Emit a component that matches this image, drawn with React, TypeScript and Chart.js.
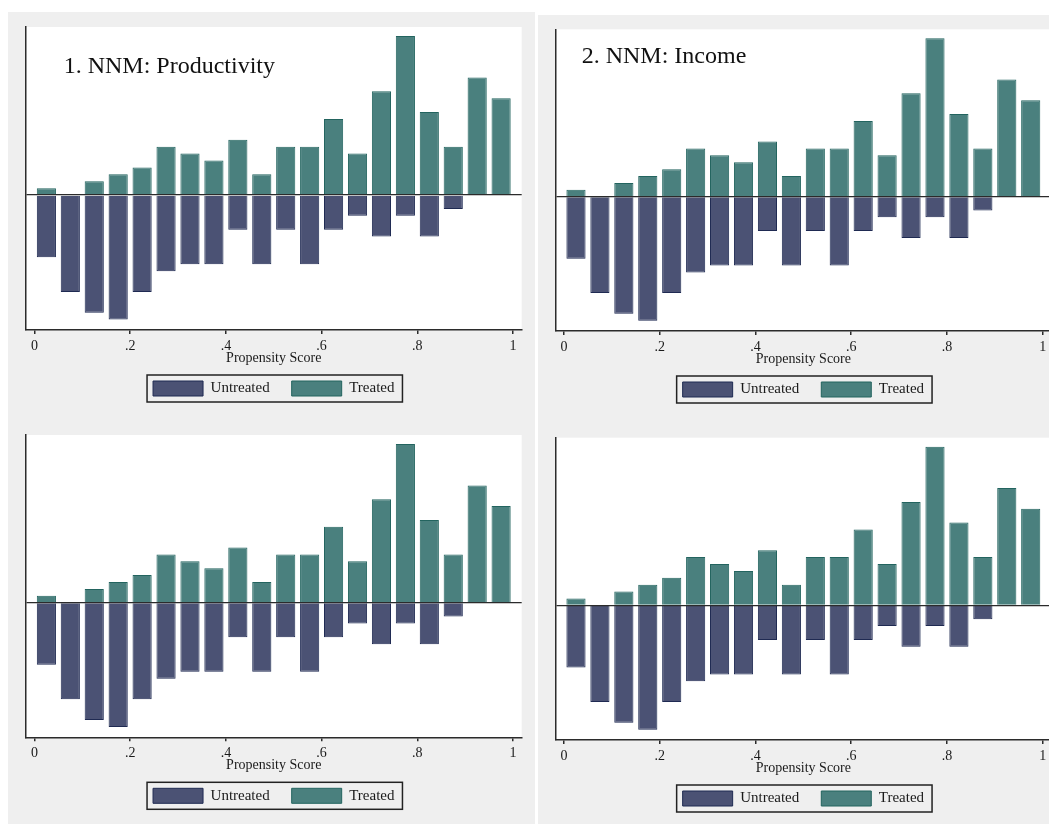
import React, { useEffect, useRef } from "react";
import { Chart, registerables } from "chart.js";

Chart.register(...registerables);

// ---- data ----
const binCenters = [
  0.025, 0.075, 0.125, 0.175, 0.225, 0.275, 0.325, 0.375, 0.425, 0.475,
  0.525, 0.575, 0.625, 0.675, 0.725, 0.775, 0.825, 0.875, 0.925, 0.975,
];
const treatedCounts = [1, 0, 2, 3, 4, 7, 6, 5, 8, 3, 7, 7, 11, 6, 15, 23, 12, 7, 17, 14];
const untreatedCounts = [9, 14, 17, 18, 14, 11, 10, 10, 5, 10, 5, 10, 5, 3, 6, 3, 6, 2, 0, 0];
const xTickValues = [0, 0.2, 0.4, 0.6, 0.8, 1];
const xTickLabels = ["0", ".2", ".4", ".6", ".8", "1"];
const seriesNames = ["Untreated", "Treated"];
const xAxisTitle = "Propensity Score";
const panelTitles = ["1. NNM: Productivity", "2. NNM: Income", "", ""];

// ---- styles / layout ----
const SERIF = "'Liberation Serif', 'Times New Roman', serif";
const PANEL_BG = "#efefef";
const UNTREATED_FILL = "#4b5274";
const UNTREATED_BORDER = "#1f2a52";
const TREATED_FILL = "#4a807e";
const TREATED_BORDER = "#23645f";
const AXIS_COLOR = "#2b2b2b";

type PanelLayout = {
  left: number;
  top: number;
  width: number;
  height: number;
  canvasWidth: number;
  padTop: number;
  padBottom: number;
  padLeft: number;
  padRight: number;
  titleLeft: number;
  titleTop: number;
};

const layouts: PanelLayout[] = [
  { left: 8, top: 12, width: 527, height: 408, canvasWidth: 527, padTop: 15, padBottom: 14, padLeft: 17.8, padRight: 13.3, titleLeft: 55.7, titleTop: 40.9 },
  { left: 538, top: 15, width: 511, height: 407, canvasWidth: 514, padTop: 14.3, padBottom: 15, padLeft: 17.4, padRight: 0.7, titleLeft: 43.7, titleTop: 27.9 },
  { left: 8, top: 420, width: 527, height: 404, canvasWidth: 527, padTop: 15, padBottom: 10.7, padLeft: 17.8, padRight: 13.3, titleLeft: 0, titleTop: 0 },
  { left: 538, top: 422, width: 511, height: 402, canvasWidth: 514, padTop: 15.7, padBottom: 8, padLeft: 17.4, padRight: 0.7, titleLeft: 0, titleTop: 0 },
];

const plotBackground = {
  id: "plotBackground",
  beforeDraw(chart: any) {
    const { ctx, chartArea } = chart;
    if (!chartArea) return;
    ctx.save();
    ctx.fillStyle = "#ffffff";
    ctx.fillRect(chartArea.left, chartArea.top, chartArea.right - chartArea.left, chartArea.bottom - chartArea.top);
    ctx.restore();
  },
};

const legendFrame = {
  id: "legendFrame",
  afterDraw(chart: any) {
    const hb = chart.legend && chart.legend.legendHitBoxes;
    if (!hb || !hb.length) return;
    const l = Math.min(...hb.map((h: any) => h.left)) - 6;
    const r = Math.max(...hb.map((h: any) => h.left + h.width)) + 8;
    const t = Math.min(...hb.map((h: any) => h.top)) - 6;
    const b = Math.max(...hb.map((h: any) => h.top + h.height)) + 6;
    const ctx = chart.ctx;
    ctx.save();
    ctx.strokeStyle = "#222";
    ctx.lineWidth = 1.5;
    ctx.strokeRect(l, t, r - l, b - t);
    ctx.restore();
  },
};

function Panel({ layout, title }: { layout: PanelLayout; title: string }) {
  const ref = useRef<HTMLCanvasElement | null>(null);

  useEffect(() => {
    if (!ref.current) return;
    const chart = new Chart(ref.current, {
      type: "bar",
      data: {
        datasets: [
          {
            label: seriesNames[0],
            data: binCenters.map((x, i) => ({ x, y: -untreatedCounts[i] })),
            backgroundColor: UNTREATED_FILL,
            borderColor: UNTREATED_BORDER,
            borderWidth: 1,
            grouped: false,
            barPercentage: 0.8,
            categoryPercentage: 1,
          } as any,
          {
            label: seriesNames[1],
            data: binCenters.map((x, i) => ({ x, y: treatedCounts[i] })),
            backgroundColor: TREATED_FILL,
            borderColor: TREATED_BORDER,
            borderWidth: 1,
            grouped: false,
            barPercentage: 0.8,
            categoryPercentage: 1,
          } as any,
        ],
      },
      options: {
        responsive: false,
        animation: false,
        devicePixelRatio: 1,
        layout: {
          padding: { top: layout.padTop, bottom: layout.padBottom, left: layout.padLeft, right: layout.padRight },
        },
        scales: {
          x: {
            type: "linear",
            min: -0.018,
            max: 1.018,
            offset: false,
            afterBuildTicks: (axis: any) => {
              axis.ticks = xTickValues.map((v) => ({ value: v }));
            },
            ticks: {
              callback: (_v: any, i: number) => xTickLabels[i],
              color: "#1a1a1a",
              font: { family: SERIF, size: 14 },
              padding: 4,
              maxRotation: 0,
              autoSkip: false,
            },
            grid: {
              display: true,
              offset: false,
              drawOnChartArea: false,
              drawTicks: true,
              tickLength: 4,
              color: AXIS_COLOR,
              lineWidth: 1.5,
            },
            border: { display: true, color: AXIS_COLOR, width: 1.5 },
            title: {
              display: true,
              text: xAxisTitle,
              color: "#1a1a1a",
              font: { family: SERIF, size: 14 },
              padding: { top: -9.2, bottom: -7.4 },
            },
          },
          y: {
            type: "linear",
            min: -19.5,
            max: 24.3,
            afterBuildTicks: (axis: any) => {
              axis.ticks = [{ value: 0 }];
            },
            ticks: { display: false },
            grid: {
              display: true,
              drawTicks: false,
              drawOnChartArea: true,
              color: AXIS_COLOR,
              lineWidth: 1.3,
              z: 1,
            },
            border: { display: true, color: AXIS_COLOR, width: 1.5, z: 2 },
          },
        },
        plugins: {
          legend: {
            display: true,
            position: "bottom",
            labels: {
              boxWidth: 50,
              boxHeight: 15,
              padding: 22,
              color: "#1a1a1a",
              font: { family: SERIF, size: 15 },
            },
          },
          tooltip: { enabled: false },
          title: { display: false },
        },
      } as any,
      plugins: [plotBackground, legendFrame],
    });
    return () => chart.destroy();
  }, [layout]);

  return (
    <div
      style={{
        position: "absolute",
        left: layout.left,
        top: layout.top,
        width: layout.width,
        height: layout.height,
        overflow: "hidden",
        background: PANEL_BG,
      }}
    >
      <canvas
        ref={ref}
        width={layout.canvasWidth}
        height={layout.height}
        style={{ position: "absolute", left: 0, top: 0, width: layout.canvasWidth, height: layout.height }}
      />
      {title ? (
        <div
          style={{
            position: "absolute",
            left: layout.titleLeft,
            top: layout.titleTop,
            fontFamily: SERIF,
            fontSize: 24,
            lineHeight: "24px",
            color: "#111",
            whiteSpace: "nowrap",
          }}
        >
          {title}
        </div>
      ) : null}
    </div>
  );
}

export default function App() {
  return (
    <div
      style={{
        position: "absolute",
        left: 0,
        top: 0,
        width: 1049,
        height: 824,
        overflow: "hidden",
        background: "#ffffff",
      }}
    >
      {layouts.map((l, i) => (
        <Panel key={i} layout={l} title={panelTitles[i]} />
      ))}
    </div>
  );
}
